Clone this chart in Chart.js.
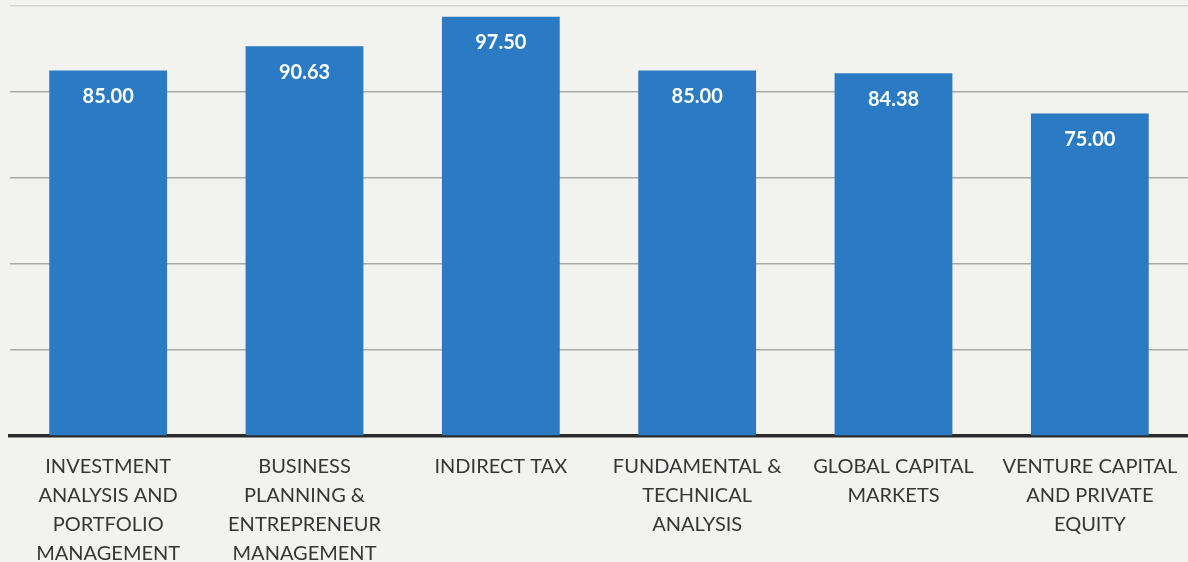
<!DOCTYPE html>
<html>
<head>
<meta charset="utf-8">
<script src="https://cdn.jsdelivr.net/npm/chart.js@4"></script>
<style>
    html, body { margin: 0; padding: 0; background: #f2f2ef; overflow: hidden; }
    #wrap { width: 1188px; height: 562px; }
</style>
</head>
<body>
<div id="wrap"><canvas id="myChart" width="1188" height="562"></canvas></div>
<script>
const labels = [
    ['INVESTMENT', 'ANALYSIS AND', 'PORTFOLIO', 'MANAGEMENT'],
    ['BUSINESS', 'PLANNING &', 'ENTREPRENEUR', 'MANAGEMENT'],
    ['INDIRECT TAX'],
    ['FUNDAMENTAL &', 'TECHNICAL', 'ANALYSIS'],
    ['GLOBAL CAPITAL', 'MARKETS'],
    ['VENTURE CAPITAL', 'AND PRIVATE', 'EQUITY'],
];
const scores = [85.00, 90.63, 97.50, 85.00, 84.38, 75.00];
const yTicks = [0, 20, 40, 60, 80, 100];

// white value text just under the top of each bar
const valueLabels = {
    id: 'valueLabels',
    afterDatasetsDraw(chart) {
        const ctx = chart.ctx;
        const meta = chart.getDatasetMeta(0);
        ctx.save();
        ctx.fillStyle = '#ffffff';
        ctx.font = 'bold 20px Lato';
        ctx.textAlign = 'center';
        ctx.textBaseline = 'middle';
        meta.data.forEach((bar, i) => {
            ctx.fillText(scores[i].toFixed(2), bar.x, bar.y + 26);
        });
        ctx.restore();
    }
};

let dataChart = {
    labels: labels,
    datasets: [{
        data: scores,
        backgroundColor: '#2a7bc4',
        borderWidth: 0,
        barPercentage: 0.6,
        categoryPercentage: 1,
    }]
};

const config = {
    type: 'bar',
    data: dataChart,
    options: {
        responsive: false,
        animation: false,
        layout: { padding: { top: 6, right: 0 } },
        plugins: {
            legend: { display: false },
            tooltip: { enabled: false },
        },
        scales: {
            x: {
                grid: { display: false, drawTicks: false },
                border: { display: true, color: '#2a2a2a', width: 3.5 },
                ticks: {
                    color: '#363636',
                    font: { family: 'Lato', size: 20, lineHeight: 1.45 },
                    padding: 16,
                    maxRotation: 0,
                    autoSkip: false,
                },
                afterFit(scale) {
                    scale.height = 126;
                    scale.paddingLeft = 0;
                    scale.paddingRight = 0;
                }
            },
            y: {
                min: 0,
                max: 100,
                afterBuildTicks(scale) { scale.ticks = yTicks.map(v => ({ value: v })); },
                grid: {
                    color: ctx => ctx.tick && ctx.tick.value === 100 ? '#d6d6d3' : '#a8a8a6',
                    lineWidth: 1.5,
                    drawTicks: false
                },
                border: { display: false },
                ticks: { display: false },
                afterFit(scale) { scale.width = 10; }
            }
        }
    },
    plugins: [valueLabels]
};

const myChart = new Chart(
    document.getElementById('myChart'),
    config
);
</script>
</body>
</html>
